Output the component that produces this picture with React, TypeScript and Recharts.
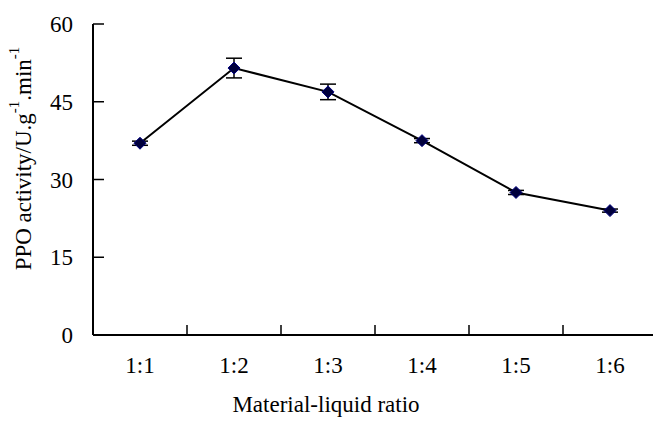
import { ErrorBar, Label, Line, LineChart, XAxis, YAxis } from 'recharts'

const ratios = ['1:1', '1:2', '1:3', '1:4', '1:5', '1:6']
const activity = [37.0, 51.5, 46.9, 37.5, 27.5, 24.0]
const activityErr = [0.4, 1.9, 1.5, 0.4, 0.4, 0.3]
const yTicks = [0, 15, 30, 45, 60]
// boundaries between ratio groups, used for the inward tick marks
const boundaryTicks = [0, 1, 2, 3, 4, 5, 6]

const FONT = '"Liberation Serif", "Times New Roman", serif'
const FONT_SIZE = 23
const Y_TICK_SIZE = 10
const Y_TICK_MARGIN = 10

const chartData = ratios.map((ratio, i) => ({
  pos: i + 0.5,
  ratio,
  activity: activity[i],
  err: activityErr[i]
}))

function Diamond(props: any) {
  const { cx, cy } = props
  if (cx == null || cy == null) return null
  const r = 6
  return (
    <path
      d={`M${cx},${cy - r} L${cx + r},${cy} L${cx},${cy + r} L${cx - r},${cy} Z`}
      fill="#00003c"
      stroke="#000080"
      strokeWidth={1}
    />
  )
}

// value label outside the axis, tick mark pointing into the plot
function YTick(props: any) {
  const { x, y, payload } = props
  const axisX = x + Y_TICK_SIZE + Y_TICK_MARGIN
  return (
    <g>
      <line x1={axisX} x2={axisX + 11} y1={y} y2={y} stroke="#000" strokeWidth={1.5} />
      <text
        x={x}
        y={y}
        dy="0.355em"
        textAnchor="end"
        fontFamily={FONT}
        fontSize={FONT_SIZE}
        fill="#000"
      >
        {payload.value}
      </text>
    </g>
  )
}

function YTitle(props: any) {
  const vb = props.viewBox || {}
  const cx = 23
  const cy = vb.y + vb.height / 2 - 21
  return (
    <text
      x={cx}
      y={cy}
      transform={`rotate(-90 ${cx} ${cy})`}
      textAnchor="middle"
      dominantBaseline="central"
      fontFamily={FONT}
      fontSize={FONT_SIZE}
      fill="#000"
    >
      PPO activity/U.g
      <tspan dy={-9} fontSize={15}>-1</tspan>
      <tspan dy={9}>.min</tspan>
      <tspan dy={-9} fontSize={15}>-1</tspan>
    </text>
  )
}

const noLabel = () => ''

export default function App() {
  return (
    <div style={{ position: 'absolute', left: 0, top: 0, width: 653, height: 432, overflow: 'hidden', background: '#fff' }}>
      <LineChart
        width={657}
        height={432}
        data={chartData}
        margin={{ top: 24, right: 0, bottom: 0, left: 0 }}
      >
        <XAxis
          xAxisId="labels"
          dataKey="pos"
          type="number"
          domain={[0, 6]}
          ticks={chartData.map(d => d.pos)}
          tickFormatter={(v: number) => ratios[Math.floor(v)]}
          axisLine={false}
          tickLine={false}
          tickSize={10}
          tickMargin={12}
          height={97}
          tick={{ fontFamily: FONT, fontSize: FONT_SIZE, fill: '#000' }}
        >
          <Label
            value="Material-liquid ratio"
            position="insideBottom"
            offset={20}
            dx={-49}
            style={{ fontFamily: FONT, fontSize: FONT_SIZE, fill: '#000' }}
          />
        </XAxis>
        <XAxis
          xAxisId="bounds"
          dataKey="pos"
          type="number"
          domain={[0, 6]}
          ticks={boundaryTicks}
          mirror
          tickFormatter={noLabel}
          tick={{ fontSize: 1 }}
          tickSize={10}
          axisLine={{ stroke: '#000', strokeWidth: 2 }}
          tickLine={{ stroke: '#000', strokeWidth: 1.5 }}
        />
        <YAxis
          domain={[0, 60]}
          ticks={yTicks}
          interval={0}
          width={93}
          axisLine={{ stroke: '#000', strokeWidth: 2 }}
          tickLine={false}
          tickSize={Y_TICK_SIZE}
          tickMargin={Y_TICK_MARGIN}
          tick={<YTick />}
        >
          <Label content={YTitle} />
        </YAxis>
        <Line
          xAxisId="labels"
          dataKey="activity"
          stroke="#000"
          strokeWidth={2}
          dot={<Diamond />}
          activeDot={false}
          isAnimationActive={false}
        >
          <ErrorBar dataKey="err" width={8} stroke="#000" strokeWidth={1.5} direction="y" />
        </Line>
      </LineChart>
    </div>
  )
}
